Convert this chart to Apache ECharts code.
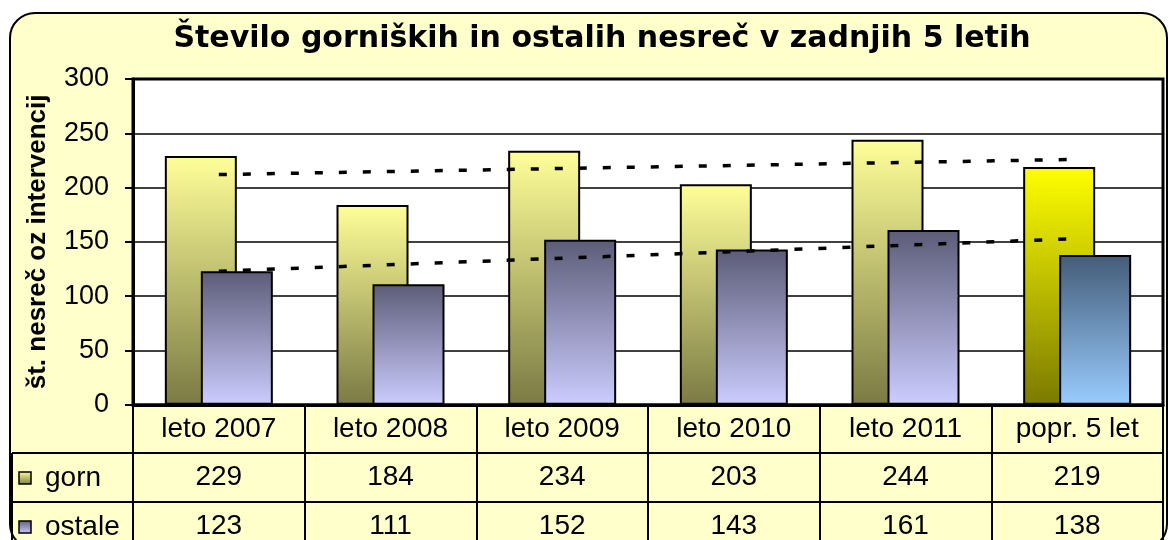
<!DOCTYPE html>
<html>
<head>
<meta charset="utf-8">
<script src="https://cdn.jsdelivr.net/npm/echarts@6/dist/echarts.min.js"></script>
<style>
html,body{margin:0;padding:0;background:#fff;overflow:hidden;}
#frame{position:absolute;left:9px;top:12px;width:1159px;height:538px;box-sizing:border-box;border:2.5px solid #000;border-radius:26px;background:#FFFFCC;}
#chart{position:absolute;left:0;top:0;width:1169px;height:540px;}
</style>
</head>
<body>
<div id="frame"></div>
<div id="chart"></div>
<script>
const titleText = 'Število gorniških in ostalih nesreč v zadnjih 5 letih';
const yAxisName = 'št. nesreč oz intervencij';
const categories = ['leto 2007', 'leto 2008', 'leto 2009', 'leto 2010', 'leto 2011', 'popr. 5 let'];
const seriesNames = ['gorn', 'ostale'];
const gorn = [229, 184, 234, 203, 244, 219];
const ostale = [123, 111, 152, 143, 161, 138];
// trend line endpoints (first and last category)
const gornTrend = [212, null, null, null, null, 226];
const ostaleTrend = [123, null, null, null, null, 153];
const yTicks = [0, 50, 100, 150, 200, 250, 300];

const G = echarts.graphic.LinearGradient;
const gornFill = new G(0, 0, 0, 1, [{offset: 0, color: '#FFFF99'}, {offset: 1, color: '#7A7A44'}]);
const gornAvgFill = new G(0, 0, 0, 1, [{offset: 0, color: '#FFFF00'}, {offset: 1, color: '#7A7A00'}]);
const ostFill = new G(0, 0, 0, 1, [{offset: 0, color: '#5C5C78'}, {offset: 1, color: '#CCCCFF'}]);
const ostAvgFill = new G(0, 0, 0, 1, [{offset: 0, color: '#445C78'}, {offset: 1, color: '#99CCFF'}]);

const FONT = "'Liberation Sans', Arial, sans-serif";
const last = categories.length - 1;

const chart = echarts.init(document.getElementById('chart'), null, {renderer: 'canvas'});
chart.setOption({
  animation: false,
  backgroundColor: 'transparent',
  title: {
    text: titleText, left: 597, top: 19, textAlign: 'center',
    textStyle: {fontFamily: "'DejaVu Sans', Verdana, sans-serif", fontWeight: 'bold', fontSize: 30, color: '#000'}
  },
  grid: {left: 133, top: 79, right: 6, bottom: 134, show: true, backgroundColor: '#fff', borderColor: '#000', borderWidth: 3},
  xAxis: {
    type: 'category', data: categories,
    axisLine: {lineStyle: {color: '#000', width: 3}},
    axisTick: {show: true, length: 150, lineStyle: {color: '#000', width: 2}},
    axisLabel: {
      interval: 0, margin: 0, color: '#000',
      formatter: (v, i) => '{c|' + v + '}\n{c|' + gorn[i] + '}\n{c|' + ostale[i] + '}',
      rich: {c: {fontFamily: FONT, fontSize: 28, lineHeight: 48.5, color: '#000'}}
    }
  },
  yAxis: {
    type: 'value', min: yTicks[0], max: yTicks[yTicks.length - 1], interval: 50,
    name: yAxisName, nameLocation: 'middle', nameRotate: 90, nameGap: 82,
    nameTextStyle: {fontFamily: FONT, fontWeight: 'bold', fontSize: 26, color: '#000'},
    axisLine: {show: true, lineStyle: {color: '#000', width: 3}},
    axisTick: {show: true, length: 8, lineStyle: {color: '#000', width: 2}},
    axisLabel: {margin: 24, color: '#000', fontFamily: FONT, fontSize: 27},
    splitLine: {lineStyle: {color: '#000', width: 1.5}}
  },
  series: [
    {
      name: seriesNames[0], type: 'bar', barWidth: 72, barGap: '-50%', z: 2,
      itemStyle: {color: gornFill, borderColor: '#000', borderWidth: 2},
      data: gorn.map((v, i) => i === last ? {value: v, itemStyle: {color: gornAvgFill}} : v)
    },
    {
      name: seriesNames[1], type: 'bar', barWidth: 72, barGap: '-50%', z: 3,
      itemStyle: {color: ostFill, borderColor: '#000', borderWidth: 2},
      data: ostale.map((v, i) => i === last ? {value: v, itemStyle: {color: ostAvgFill}} : v)
    },
    {
      type: 'line', data: gornTrend, connectNulls: true, symbol: 'none', z: 5,
      lineStyle: {color: '#000', width: 3.5, type: [8, 16]}
    },
    {
      type: 'line', data: ostaleTrend, connectNulls: true, symbol: 'none', z: 5,
      lineStyle: {color: '#000', width: 3.5, type: [8, 16]}
    }
  ],
  graphic: [
    {type: 'line', shape: {x1: 12, y1: 453, x2: 1163, y2: 453}, style: {stroke: '#000', lineWidth: 2}},
    {type: 'line', shape: {x1: 12, y1: 502, x2: 1163, y2: 502}, style: {stroke: '#000', lineWidth: 2}},
    {type: 'line', shape: {x1: 12, y1: 453, x2: 12, y2: 560}, style: {stroke: '#000', lineWidth: 2}},
    {type: 'rect', shape: {x: 19, y: 472, width: 12, height: 12}, style: {fill: gornFill, stroke: '#000', lineWidth: 1.5}},
    {type: 'rect', shape: {x: 19, y: 521, width: 12, height: 12}, style: {fill: ostFill, stroke: '#000', lineWidth: 1.5}},
    {type: 'text', x: 45, y: 478, style: {text: seriesNames[0], font: '28px ' + FONT, fill: '#000', textVerticalAlign: 'middle', verticalAlign: 'middle'}},
    {type: 'text', x: 45, y: 527, style: {text: seriesNames[1], font: '28px ' + FONT, fill: '#000', textVerticalAlign: 'middle', verticalAlign: 'middle'}}
  ]
});
</script>
</body>
</html>
